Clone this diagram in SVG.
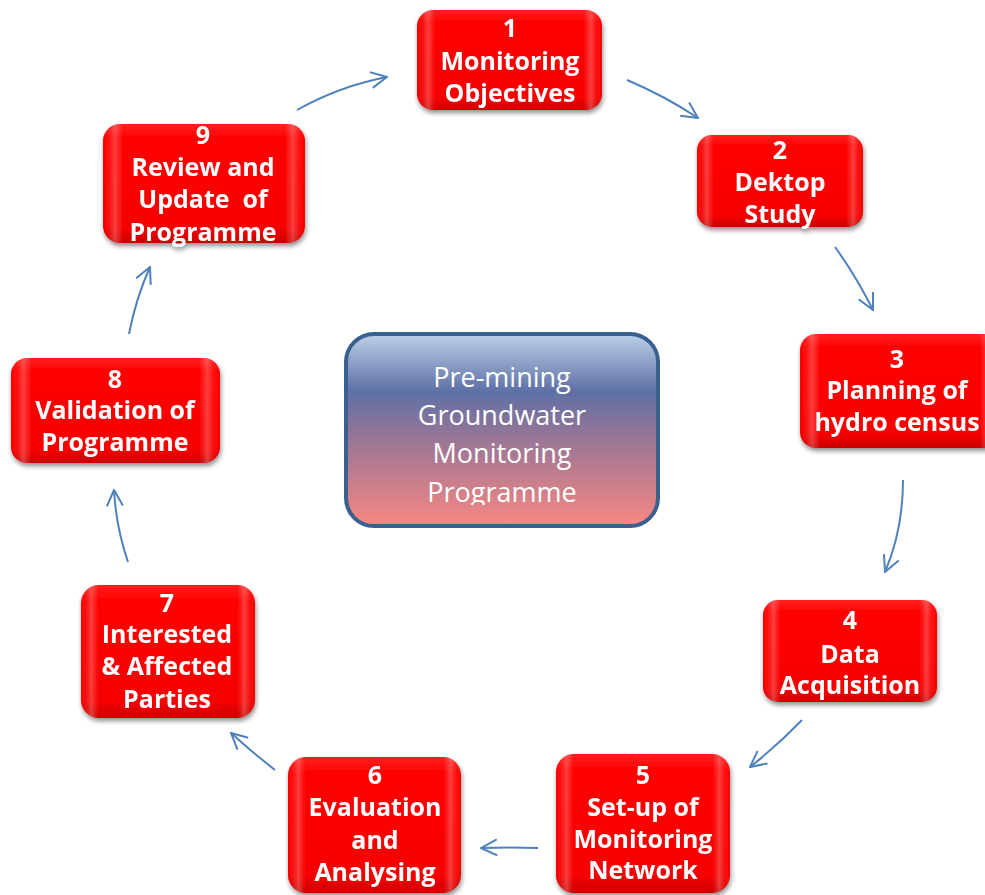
<svg xmlns="http://www.w3.org/2000/svg" width="985" height="895" viewBox="0 0 985 895">
  <defs>
    <linearGradient id="redFill" x1="0" y1="0" x2="0" y2="1">
      <stop offset="0" stop-color="#ff2020"/>
      <stop offset="0.12" stop-color="#ff0000"/>
      <stop offset="0.88" stop-color="#f60000"/>
      <stop offset="1" stop-color="#c80000"/>
    </linearGradient>
    <linearGradient id="sideGloss" x1="0" y1="0" x2="1" y2="0">
      <stop offset="0" stop-color="#ffffff" stop-opacity="0"/>
      <stop offset="0.03" stop-color="#ffffff" stop-opacity="0.06"/>
      <stop offset="0.06" stop-color="#ffffff" stop-opacity="0.24"/>
      <stop offset="0.1" stop-color="#ffffff" stop-opacity="0"/>
      <stop offset="0.9" stop-color="#ffffff" stop-opacity="0"/>
      <stop offset="0.94" stop-color="#ffffff" stop-opacity="0.24"/>
      <stop offset="0.97" stop-color="#ffffff" stop-opacity="0.06"/>
      <stop offset="1" stop-color="#ffffff" stop-opacity="0"/>
    </linearGradient>
    <linearGradient id="hubFill" x1="0" y1="0" x2="0" y2="1">
      <stop offset="0" stop-color="#bdd0e8"/>
      <stop offset="0.3" stop-color="#5e70a6"/>
      <stop offset="0.55" stop-color="#9a7696"/>
      <stop offset="1" stop-color="#f88882"/>
    </linearGradient>
    <filter id="shadow" x="-10%" y="-10%" width="125%" height="130%">
      <feGaussianBlur in="SourceAlpha" stdDeviation="2.5"/>
      <feOffset dx="1" dy="3" result="b"/>
      <feComponentTransfer><feFuncA type="linear" slope="0.45"/></feComponentTransfer>
      <feMerge><feMergeNode/><feMergeNode in="SourceGraphic"/></feMerge>
    </filter>
    <marker id="head" viewBox="0 0 18 18" refX="17" refY="9" markerWidth="18" markerHeight="18" markerUnits="userSpaceOnUse" orient="auto">
      <path d="M1,1 L17,9 L1,17" fill="none" stroke="#4f81bd" stroke-width="2"/>
    </marker>
    <clipPath id="hubClip">
      <rect x="346" y="334" width="312" height="171"/>
    </clipPath>
  </defs>
  <style>
    .box { fill: url(#redFill); }
    .gloss { fill: url(#sideGloss); }
    .lbl { font-family: "Open Sans", "Liberation Sans", sans-serif; font-weight: bold; font-size: 25px; fill: #ffffff; text-anchor: middle; }
    .hub { font-family: "Open Sans", "Liberation Sans", sans-serif; font-size: 27px; fill: #ffffff; text-anchor: middle; }
    .arrow { fill: none; stroke: #4f81bd; stroke-width: 2; marker-end: url(#head); }
  </style>

  <rect width="985" height="895" fill="#ffffff"/>

  <!-- cycle connectors -->
  <g id="connectors">
    <path class="arrow" d="M627,80 Q665,96 698,118"/>
    <path class="arrow" d="M835,247 Q856,276 873,310"/>
    <path class="arrow" d="M903,480 Q903,530 885,572"/>
    <path class="arrow" d="M802,720 Q778,745 750,767"/>
    <path class="arrow" d="M538,848 Q510,847 481,848"/>
    <path class="arrow" d="M275,770 Q252,752 231,733"/>
    <path class="arrow" d="M128,562 Q116,527 114,490"/>
    <path class="arrow" d="M129,334 Q136,298 150,267"/>
    <path class="arrow" d="M297,110 Q340,86 387,77"/>
  </g>

  <!-- central hub -->
  <g id="hub">
    <rect x="346" y="334" width="312" height="192" rx="28" fill="url(#hubFill)" stroke="#3a6090" stroke-width="4"/>
    <g clip-path="url(#hubClip)">
      <text class="hub" x="502" y="387">Pre-mining</text>
      <text class="hub" x="502" y="425">Groundwater</text>
      <text class="hub" x="502" y="463">Monitoring</text>
      <text class="hub" x="502" y="502">Programme</text>
    </g>
  </g>

  <g id="step1" filter="url(#shadow)">
    <rect class="box" x="417" y="10" width="185" height="100" rx="16"/>
    <rect class="gloss" x="417" y="10" width="185" height="100" rx="16"/>
    <text class="lbl" x="510" y="37">1</text>
    <text class="lbl" x="510" y="70">Monitoring</text>
    <text class="lbl" x="510" y="102">Objectives</text>
  </g>

  <g id="step2" filter="url(#shadow)">
    <rect class="box" x="697" y="135" width="166" height="92" rx="15"/>
    <rect class="gloss" x="697" y="135" width="166" height="92" rx="15"/>
    <text class="lbl" x="780" y="159">2</text>
    <text class="lbl" x="780" y="191">Dektop</text>
    <text class="lbl" x="780" y="223">Study</text>
  </g>

  <g id="step3" filter="url(#shadow)">
    <rect class="box" x="800" y="334" width="200" height="114" rx="16"/>
    <rect class="gloss" x="800" y="334" width="200" height="114" rx="16"/>
    <text class="lbl" x="897" y="368">3</text>
    <text class="lbl" x="897" y="399">Planning of</text>
    <text class="lbl" x="897" y="431">hydro census</text>
  </g>

  <g id="step4" filter="url(#shadow)">
    <rect class="box" x="763" y="600" width="174" height="102" rx="15"/>
    <rect class="gloss" x="763" y="600" width="174" height="102" rx="15"/>
    <text class="lbl" x="850" y="629">4</text>
    <text class="lbl" x="850" y="663">Data</text>
    <text class="lbl" x="850" y="694">Acquisition</text>
  </g>

  <g id="step5" filter="url(#shadow)">
    <rect class="box" x="556" y="754" width="174" height="139" rx="18"/>
    <rect class="gloss" x="556" y="754" width="174" height="139" rx="18"/>
    <text class="lbl" x="643" y="784">5</text>
    <text class="lbl" x="643" y="816">Set-up of</text>
    <text class="lbl" x="643" y="848">Monitoring</text>
    <text class="lbl" x="643" y="879">Network</text>
  </g>

  <g id="step6" filter="url(#shadow)">
    <rect class="box" x="288" y="757" width="173" height="136" rx="18"/>
    <rect class="gloss" x="288" y="757" width="173" height="136" rx="18"/>
    <text class="lbl" x="375" y="784">6</text>
    <text class="lbl" x="375" y="816">Evaluation</text>
    <text class="lbl" x="375" y="849">and</text>
    <text class="lbl" x="375" y="881">Analysing</text>
  </g>

  <g id="step7" filter="url(#shadow)">
    <rect class="box" x="81" y="585" width="174" height="133" rx="18"/>
    <rect class="gloss" x="81" y="585" width="174" height="133" rx="18"/>
    <text class="lbl" x="167" y="612">7</text>
    <text class="lbl" x="167" y="643">Interested</text>
    <text class="lbl" x="167" y="675">&amp; Affected</text>
    <text class="lbl" x="167" y="708">Parties</text>
  </g>

  <g id="step8" filter="url(#shadow)">
    <rect class="box" x="11" y="358" width="209" height="105" rx="16"/>
    <rect class="gloss" x="11" y="358" width="209" height="105" rx="16"/>
    <text class="lbl" x="115" y="388">8</text>
    <text class="lbl" x="115" y="419">Validation of</text>
    <text class="lbl" x="115" y="451">Programme</text>
  </g>

  <g id="step9" filter="url(#shadow)">
    <rect class="box" x="103" y="124" width="202" height="119" rx="17"/>
    <rect class="gloss" x="103" y="124" width="202" height="119" rx="17"/>
    <text class="lbl" x="203" y="144">9</text>
    <text class="lbl" x="203" y="176">Review and</text>
    <text class="lbl" x="203" y="208" xml:space="preserve">Update  of</text>
    <text class="lbl" x="203" y="241">Programme</text>
  </g>
</svg>
